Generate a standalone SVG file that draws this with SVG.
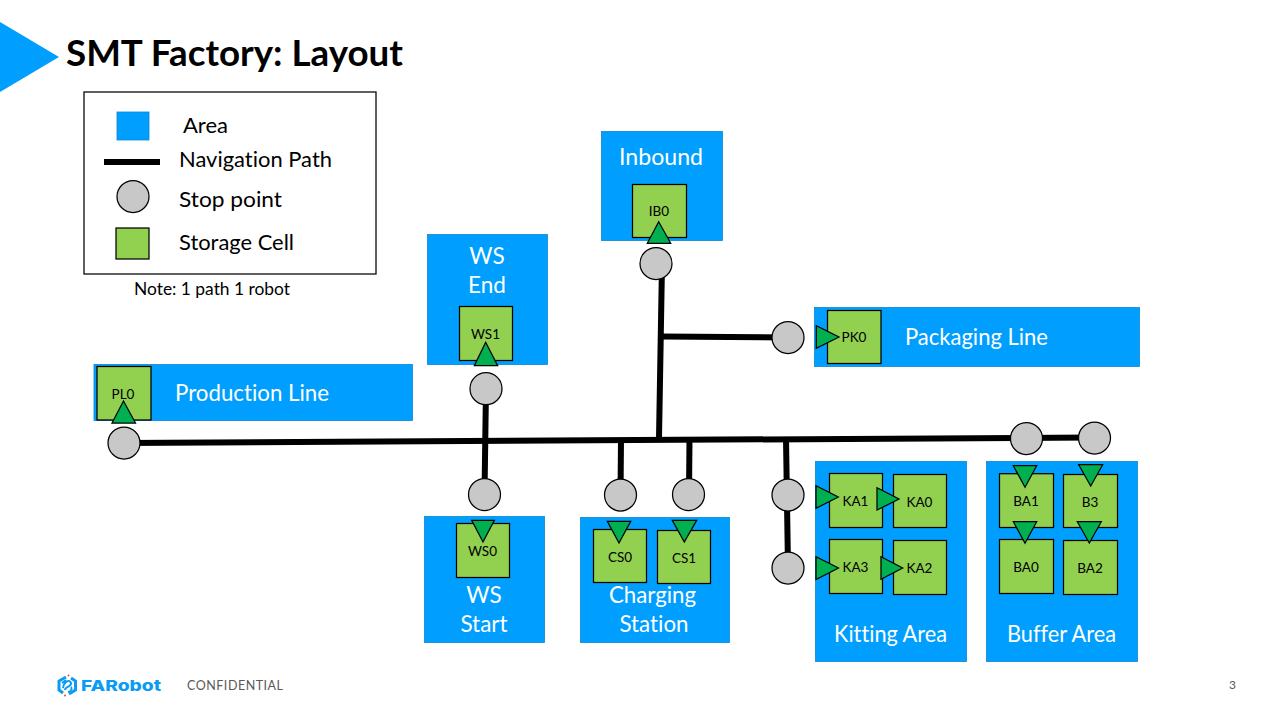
<svg xmlns="http://www.w3.org/2000/svg" width="1280" height="720" viewBox="0 0 1280 720">
<style>
text{font-family:"Lato","Open Sans",sans-serif;font-variant-ligatures:none}
.a{fill:#009fff;stroke:#0b87cf;stroke-width:.8}
.c{fill:#92d050;stroke:#000;stroke-width:1.25}
.t{fill:#00b050;stroke:#000;stroke-width:1.25;stroke-linejoin:miter}
.s{fill:#c8c8c8;stroke:#000;stroke-width:1.25}
.p{stroke:#000;stroke-width:6;fill:none}
.l{fill:#fff;font-size:22.5px;text-anchor:middle}
.k{fill:#000;font-size:13.5px;text-anchor:middle}
.g{fill:#000;font-size:22px}
</style>
<rect width="1280" height="720" fill="#fff"/>
<polygon points="0,22 59,57 0,92" fill="#009fff"/>
<text x="66" y="66" font-size="36" font-weight="700" fill="#000" textLength="337" lengthAdjust="spacingAndGlyphs">SMT Factory: Layout</text>

<g id="legend">
<rect x="84" y="92" width="292" height="182" fill="#fff" stroke="#000" stroke-width="1.25"/>
<rect class="a" x="117" y="112" width="32" height="28"/>
<text class="g" x="183" y="133" textLength="45" lengthAdjust="spacingAndGlyphs">Area</text>
<line class="p" x1="104" y1="162" x2="160" y2="162"/>
<text class="g" x="179" y="167" textLength="153" lengthAdjust="spacingAndGlyphs">Navigation Path</text>
<circle class="s" cx="133" cy="196.500" r="16"/>
<text class="g" x="179" y="207" textLength="103" lengthAdjust="spacingAndGlyphs">Stop point</text>
<rect class="c" x="116" y="228" width="33" height="31"/>
<text class="g" x="179" y="250" textLength="115" lengthAdjust="spacingAndGlyphs">Storage Cell</text>
<text x="134" y="295" font-size="17" fill="#000" textLength="156" lengthAdjust="spacingAndGlyphs">Note: 1 path 1 robot</text>
</g>

<g id="connectors">
<line class="p" x1="124" y1="443" x2="1094" y2="437.500"/>
<line class="p" x1="486" y1="388" x2="484.500" y2="494"/>
<line class="p" x1="662" y1="264" x2="659" y2="438"/>
<line class="p" x1="661" y1="336.500" x2="788" y2="337.500"/>
<line class="p" x1="621" y1="440" x2="620.500" y2="495"/>
<line class="p" x1="689.500" y1="439" x2="689" y2="494"/>
<line class="p" x1="786" y1="438" x2="788" y2="568"/>
</g>

<g id="inbound">
<rect class="a" x="601.500" y="131.500" width="121" height="109"/>
<text class="l" x="661" y="165" textLength="84" lengthAdjust="spacingAndGlyphs">Inbound</text>
<rect class="c" x="632.500" y="184.500" width="54" height="53"/>
<text class="k" x="659" y="216">IB0</text>
<polygon class="t" points="658.700,221.700 647.300,243.300 670.700,243.300"/>
</g>
<g id="ws-end">
<rect class="a" x="427.500" y="234.500" width="120" height="130"/>
<text class="l" x="487" y="264">WS</text>
<text class="l" x="487" y="293">End</text>
<rect class="c" x="459.500" y="306.500" width="53" height="54"/>
<text class="k" x="485.500" y="339">WS1</text>
<polygon class="t" points="485.700,342.300 474.300,365.700 497.700,365.700"/>
</g>
<g id="packaging-line">
<rect class="a" x="814.500" y="307.500" width="325" height="59"/>
<rect class="c" x="827.500" y="310.500" width="53.500" height="53"/>
<text class="k" x="854" y="342">PK0</text>
<polygon class="t" points="816.300,325.700 816.300,348.300 839,337"/>
<text class="l" x="976.500" y="345" textLength="143" lengthAdjust="spacingAndGlyphs">Packaging Line</text>
</g>
<g id="production-line">
<rect class="a" x="94" y="364.500" width="318.500" height="56"/>
<rect class="c" x="97" y="366.500" width="54" height="53.500"/>
<text class="k" x="123" y="399">PL0</text>
<polygon class="t" points="123.500,401 112,423 135.500,423"/>
<text class="l" x="252" y="401" textLength="154" lengthAdjust="spacingAndGlyphs">Production Line</text>
</g>
<g id="ws-start">
<rect class="a" x="424.500" y="516.500" width="120" height="126"/>
<rect class="c" x="456.500" y="523.500" width="53" height="54"/>
<text class="k" x="482.500" y="556">WS0</text>
<polygon class="t" points="471.700,520.300 494.300,520.300 483,542"/>
<text class="l" x="484" y="603">WS</text>
<text class="l" x="484" y="632">Start</text>
</g>
<g id="charging-station">
<rect class="a" x="580.500" y="517.500" width="149" height="125"/>
<rect class="c" x="593.500" y="529.500" width="53" height="53"/>
<text class="k" x="620" y="562">CS0</text>
<polygon class="t" points="607.300,521.300 630.700,521.300 619,543"/>
<rect class="c" x="657.500" y="530.500" width="53" height="53"/>
<text class="k" x="684" y="563">CS1</text>
<polygon class="t" points="672.300,520.300 696.700,520.300 684.300,542"/>
<text class="l" x="652.500" y="603" textLength="87" lengthAdjust="spacingAndGlyphs">Charging</text>
<text class="l" x="654" y="632" textLength="69" lengthAdjust="spacingAndGlyphs">Station</text>
</g>
<g id="kitting-area">
<rect class="a" x="815.500" y="461.500" width="151" height="200"/>
<rect class="c" x="829.500" y="473.500" width="53" height="54"/>
<text class="k" x="855.500" y="506">KA1</text>
<rect class="c" x="893.500" y="474.500" width="53" height="53"/>
<text class="k" x="919.500" y="507">KA0</text>
<rect class="c" x="829.500" y="539.500" width="53" height="54"/>
<text class="k" x="855.500" y="572">KA3</text>
<rect class="c" x="893.500" y="540.500" width="53" height="54"/>
<text class="k" x="919.500" y="573">KA2</text>
<polygon class="t" points="816,485.700 816,508.300 838.300,497"/>
<polygon class="t" points="877,487.700 877,510 899,499"/>
<polygon class="t" points="816,556.700 816,579.500 838.500,568"/>
<polygon class="t" points="881,556.700 881,579.300 902.700,568"/>
<text class="l" x="890.500" y="642" textLength="113" lengthAdjust="spacingAndGlyphs">Kitting Area</text>
</g>
<g id="buffer-area">
<rect class="a" x="986.500" y="461.500" width="151" height="200"/>
<rect class="c" x="999.500" y="473.700" width="54" height="53.800"/>
<text class="k" x="1026" y="506">BA1</text>
<rect class="c" x="1063.500" y="474.500" width="54" height="53"/>
<text class="k" x="1090" y="507">B3</text>
<rect class="c" x="999.500" y="539.500" width="54" height="54"/>
<text class="k" x="1026" y="572">BA0</text>
<rect class="c" x="1063.500" y="540.500" width="54" height="54"/>
<text class="k" x="1090" y="573">BA2</text>
<polygon class="t" points="1013.300,465.700 1036.700,465.700 1025,487.300"/>
<polygon class="t" points="1078.700,464.700 1102.700,464.700 1090.700,486"/>
<polygon class="t" points="1013.300,521.700 1036.700,521.700 1025,543.300"/>
<polygon class="t" points="1077.300,521.700 1101.300,521.700 1089.300,543"/>
<text class="l" x="1061.500" y="642" textLength="109" lengthAdjust="spacingAndGlyphs">Buffer Area</text>
</g>

<g id="stops">
<circle class="s" cx="124" cy="443" r="16"/>
<circle class="s" cx="486" cy="388.700" r="16"/>
<circle class="s" cx="656" cy="263.500" r="16"/>
<circle class="s" cx="788" cy="337.500" r="16"/>
<circle class="s" cx="484.500" cy="494.500" r="16"/>
<circle class="s" cx="620.500" cy="495" r="16"/>
<circle class="s" cx="688.500" cy="494.500" r="16"/>
<circle class="s" cx="788" cy="495" r="16"/>
<circle class="s" cx="788" cy="568" r="16"/>
<circle class="s" cx="1026.500" cy="438.500" r="16"/>
<circle class="s" cx="1094.500" cy="438" r="16"/>
</g>

<g id="footer">
<path d="M66,677 L59,681 L59,690 L63,693 M69,694 L75.500,690 L75.500,681 L71,678" fill="none" stroke="#0a9cf5" stroke-width="3"/>
<path d="M63,688 C64,681 70,679 71,683 C72,687 65,686 65,690 M62,683 L66,680 M68,692 C72,691 72,688 71,687" fill="none" stroke="#0a9cf5" stroke-width="2"/>
<circle cx="68.500" cy="675.500" r=".9" fill="#f03040"/>
<circle cx="65" cy="695.500" r=".9" fill="#f03040"/>
<text x="81" y="690.500" font-family="Inter" font-size="15" font-weight="800" fill="#0a9cf5" textLength="80" lengthAdjust="spacingAndGlyphs" style="font-family:Inter,sans-serif">FARobot</text>
<text x="187" y="690" font-size="12.500" fill="#595959" textLength="96">CONFIDENTIAL</text>
<text x="1229" y="689" font-size="12" fill="#595959">3</text>
</g>
</svg>
